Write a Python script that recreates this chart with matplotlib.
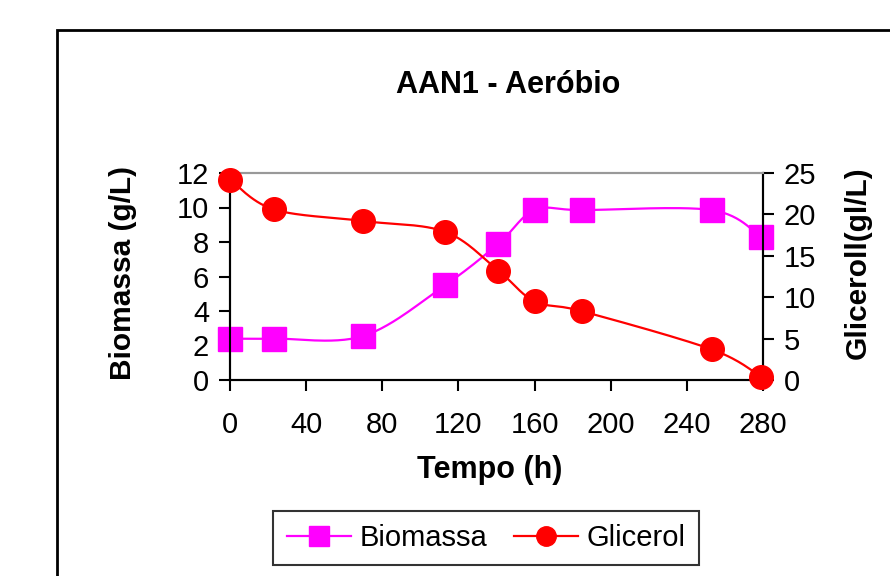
import matplotlib
matplotlib.use("Agg")
import matplotlib.pyplot as plt
import numpy as np
from matplotlib.patches import Rectangle
from matplotlib.lines import Line2D

plt.rcParams['font.family'] = ['Liberation Sans', 'DejaVu Sans']

# dados
tempo = [0, 23, 70, 113, 141, 160, 185, 253, 279]
biomassa = [2.4, 2.4, 2.55, 5.5, 7.9, 9.85, 9.85, 9.85, 8.3]
glicerol = [24.2, 20.6, 19.2, 17.9, 13.2, 9.5, 8.3, 3.7, 0.4]
xticks = [0, 40, 80, 120, 160, 200, 240, 280]


def suavizar(x, y, n=30):
    # curva suavizada tipo Excel (Catmull-Rom)
    x = np.asarray(x, float)
    y = np.asarray(y, float)
    px = np.concatenate([[x[0]], x, [x[-1]]])
    py = np.concatenate([[y[0]], y, [y[-1]]])
    xs, ys = [], []
    t = np.linspace(0, 1, n)
    for i in range(1, len(px) - 2):
        for p, out in ((px, xs), (py, ys)):
            p0, p1, p2, p3 = p[i - 1], p[i], p[i + 1], p[i + 2]
            c = 0.5 * (2 * p1 + (-p0 + p2) * t + (2 * p0 - 5 * p1 + 4 * p2 - p3) * t ** 2
                       + (-p0 + 3 * p1 - 3 * p2 + p3) * t ** 3)
            out.extend(c)
    return np.array(xs), np.array(ys)


fig = plt.figure(figsize=(8.9, 5.76), dpi=100)
ax = fig.add_axes([230 / 890, 1 - 380 / 576, 533 / 890, 207 / 576])
ax2 = ax.twinx()

mag = '#FF00FF'
red = '#FF0000'

bx, by = suavizar(tempo, biomassa)
ax.plot(bx, by, color=mag, lw=1.6, clip_on=False, zorder=3)
ax.plot(tempo, biomassa, ls='none', marker='s', ms=17, color=mag, clip_on=False, zorder=4)

gx, gy = suavizar(tempo, glicerol)
ax2.plot(gx, gy, color=red, lw=1.6, clip_on=False, zorder=3)
ax2.plot(tempo, glicerol, ls='none', marker='o', ms=17, color=red, clip_on=False, zorder=4)

ax.set_xlim(0, 280)
ax.set_ylim(0, 12)
ax2.set_ylim(0, 25)
ax.set_xticks(xticks)
ax.set_yticks(range(0, 13, 2))
ax2.set_yticks(range(0, 26, 5))

for a in (ax, ax2):
    a.spines['top'].set_color('#999999')
    a.spines['top'].set_linewidth(1.5)
    for s in ('left', 'right', 'bottom'):
        a.spines[s].set_linewidth(1.5)
    a.tick_params(direction='out', length=8, width=1.5, labelsize=21, pad=7)
ax.tick_params(axis='x', pad=14)

fig.text(0.571, 1 - 85 / 576, 'AAN1 - Aeróbio', ha='center', va='center',
         fontsize=22, fontweight='bold')
fig.text(490 / 890, 1 - 470 / 576, 'Tempo (h)', ha='center', va='center',
         fontsize=22, fontweight='bold')
fig.text(123 / 890, 1 - 273 / 576, 'Biomassa (g/L)', ha='center', va='center',
         rotation=90, fontsize=21.5, fontweight='bold')
fig.text(858 / 890, 1 - 263 / 576, 'Gliceroll(gl/L)', ha='center', va='center',
         rotation=90, fontsize=21.5, fontweight='bold')

# moldura externa
fig.patches.append(Rectangle((57 / 890, -0.2), 1.2, 1 - 30 / 576 + 0.2, transform=fig.transFigure,
                             fill=False, ec='black', lw=2))

handles = [Line2D([], [], color=mag, lw=1.6, marker='s', ms=14),
           Line2D([], [], color=red, lw=1.6, marker='o', ms=14)]
leg = fig.legend(handles, ['Biomassa', 'Glicerol'], loc='center',
                 bbox_to_anchor=(486 / 890, 1 - 538 / 576), ncol=2, fontsize=21,
                 frameon=True, fancybox=False, edgecolor='black', handlelength=2.2,
                 columnspacing=0.9, handletextpad=0.3, borderpad=0.45, borderaxespad=0)
leg.get_frame().set_linewidth(1.5)

fig.savefig('out.png', dpi=100)
